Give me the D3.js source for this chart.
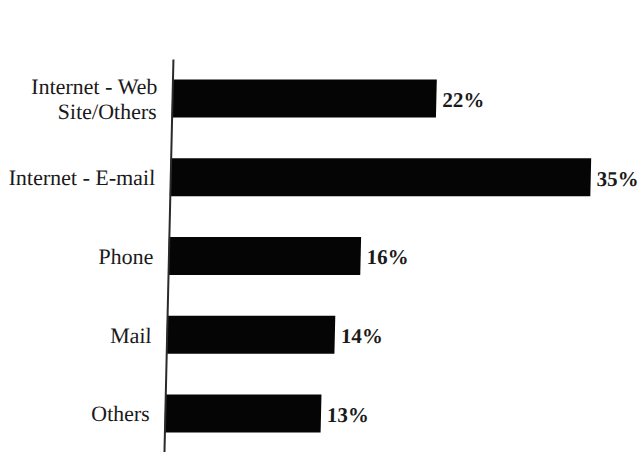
<!DOCTYPE html>
<html>
<head>
<meta charset="utf-8">
<script src="https://cdn.jsdelivr.net/npm/d3@7"></script>
<style>
  html, body { margin: 0; padding: 0; background: #fff; }
  svg { display: block; }
  text { font-family: "Liberation Serif", "Times New Roman", serif; fill: #1a1a1a; }
</style>
</head>
<body>
<svg id="chart" width="640" height="452"></svg>
<script>
// Contact channels and their shares (%)
const categories = ["Internet - Web Site/Others", "Internet - E-mail", "Phone", "Mail", "Others"];
const categoryLines = [["Internet - Web", "Site/Others"], ["Internet - E-mail"], ["Phone"], ["Mail"], ["Others"]];
const shares = [22, 35, 16, 14, 13];
const shareLabels = ["22%", "35%", "16%", "14%", "13%"];

const svg = d3.select("#chart");
const width = 640, height = 452;

// Plot group, leaning slightly like the printed page
const skewTan = -9 / 394;
const g = svg.append("g")
  .attr("transform", `translate(174.3,0) skewX(${Math.atan(skewTan) * 180 / Math.PI})`);

const y = d3.scaleBand()
  .domain(categories)
  .range([59.1, 452.9])
  .paddingInner(0.515)
  .paddingOuter(0.2575);

const x = d3.scaleLinear()
  .domain([0, 35])
  .range([0, 420.5]);

// Bars
g.selectAll("rect.bar")
  .data(categories)
  .join("rect")
  .attr("class", "bar")
  .attr("x", x(0))
  .attr("y", d => y(d))
  .attr("width", (d, i) => x(shares[i]) - x(0))
  .attr("height", y.bandwidth())
  .attr("fill", "#050505");

// Value labels
g.selectAll("text.value")
  .data(categories)
  .join("text")
  .attr("class", "value")
  .attr("x", (d, i) => x(shares[i]) + 6)
  .attr("y", d => y(d) + y.bandwidth() / 2)
  .attr("dy", "0.4em")
  .attr("font-size", 21)
  .attr("font-weight", "bold")
  .text((d, i) => shareLabels[i]);

// Category axis
const axis = d3.axisLeft(y).tickSize(0).tickPadding(15).tickFormat(() => "");
const axisG = g.append("g").call(axis);
axisG.select(".domain").attr("stroke", "#2a2a2a").attr("stroke-width", 2);

axisG.selectAll(".tick text").each(function(d, i) {
  const t = d3.select(this)
    .attr("font-size", 22)
    .attr("font-family", "Liberation Serif, Times New Roman, serif")
    .attr("fill", "#1a1a1a")
    .attr("dy", null);
  const lines = categoryLines[i];
  const lh = 25;
  const start = -((lines.length - 1) * lh) / 2;
  lines.forEach((line, k) => {
    t.append("tspan")
      .attr("x", -15)
      .attr("y", start + k * lh)
      .attr("dy", "0.36em")
      .text(line);
  });
});
</script>
</body>
</html>
